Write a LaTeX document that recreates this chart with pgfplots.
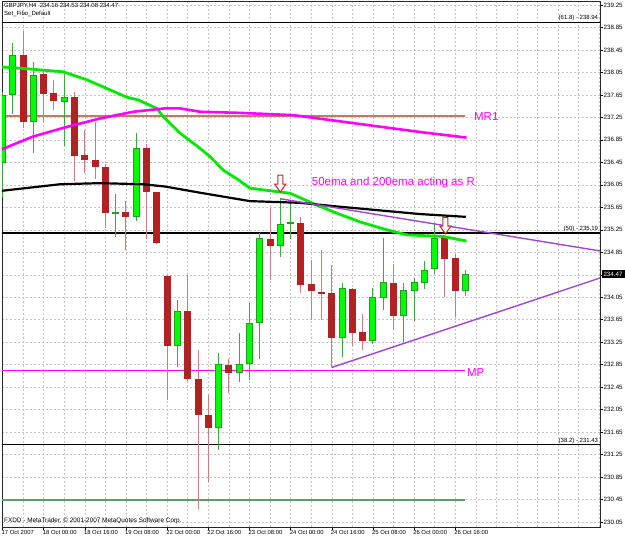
\documentclass[border=0pt]{standalone}
\usepackage{fontspec}
\setmainfont{Liberation Sans}
\usepackage{pgfplots}
\pgfplotsset{compat=1.18}
\usepackage{pgfplotstable}

\definecolor{bullfill}{RGB}{0,255,0}
\definecolor{bulledge}{RGB}{30,160,30}
\definecolor{bullwick}{RGB}{60,170,60}
\definecolor{bearfill}{RGB}{178,34,34}
\definecolor{bearwick}{RGB}{205,125,125}
\definecolor{emagreen}{RGB}{0,232,0}
\definecolor{mag}{RGB}{255,0,255}
\definecolor{mrone}{RGB}{190,125,95}
\definecolor{trend}{RGB}{160,70,210}
\definecolor{supgreen}{RGB}{90,160,110}
\definecolor{gridc}{RGB}{205,192,198}
\definecolor{arrowred}{RGB}{190,40,40}

\pgfplotstableread{
x o h l c
0 236.44 237.70 235.84 237.65
1 237.65 238.57 237.31 238.36
3 237.17 238.23 236.62 238.00
6 237.53 238.03 236.74 237.61
11 235.53 235.89 235.13 235.56
13 235.47 236.98 235.41 236.70
17 233.19 234.00 232.80 233.80
21 231.73 233.05 231.34 232.86
23 232.70 233.41 232.54 232.86
24 232.86 233.94 232.58 233.60
25 233.60 235.19 232.95 235.10
27 234.97 235.81 234.76 235.35
28 235.37 235.75 235.09 235.39
33 233.33 234.30 232.98 234.21
36 233.28 234.21 233.22 234.05
37 234.04 235.10 233.82 234.32
39 233.72 234.30 233.25 234.18
40 234.17 234.40 233.63 234.32
41 234.31 234.70 234.20 234.53
42 234.55 235.37 234.46 235.10
45 234.16 234.53 234.08 234.47
}\bulltab

\pgfplotstableread{
x o h l c
2 238.36 238.79 237.07 237.16
4 238.02 238.09 237.17 237.67
5 237.68 237.92 237.38 237.54
7 237.62 237.71 236.12 236.56
8 236.58 237.03 236.27 236.50
9 236.49 237.17 236.15 236.37
10 236.36 236.42 235.28 235.55
12 235.56 235.76 234.90 235.47
14 236.71 236.78 235.08 235.92
15 235.92 235.93 235.00 235.02
16 234.42 234.45 232.22 233.19
18 233.80 234.45 232.56 232.60
19 232.60 233.12 230.28 231.95
20 231.95 232.31 230.77 231.73
22 232.84 232.96 232.34 232.70
26 235.09 235.63 234.36 234.96
29 235.38 235.48 234.12 234.27
30 234.28 234.72 233.65 234.16
31 234.15 234.89 233.65 234.12
32 234.12 234.62 232.81 233.32
34 234.20 234.22 233.18 233.41
35 233.44 233.76 233.11 233.28
38 234.30 234.64 233.48 233.72
43 235.10 235.12 234.06 234.73
44 234.74 234.82 233.70 234.16
}\beartab

\begin{document}
\begin{tikzpicture}
\useasboundingbox (0,0) rectangle (625pt,537pt);
\begin{axis}[
  at={(2pt,10pt)}, anchor=south west, scale only axis,
  width=598pt, height=526pt,
  xmin=-0.05, xmax=58.07, ymin=229.962, ymax=239.321,
  axis line style={draw=black!85, line width=0.8pt},
  tick align=outside, major tick length=3pt, minor tick length=0pt,
  tick style={black, line width=0.5pt},
  xtick pos=bottom, ytick pos=right,
  xtick={0,4,...,44},
  xticklabels={17 Oct 2007,18 Oct 00:00,18 Oct 16:00,19 Oct 08:00,22 Oct 00:00,22 Oct 16:00,23 Oct 08:00,24 Oct 00:00,24 Oct 16:00,25 Oct 08:00,26 Oct 00:00,26 Oct 16:00},
  minor xtick={2,6,10,14,18,22,26,30,34,38,42,46,48,50,52,54,56,58},
  ytick={230.05,230.45,230.85,231.25,231.65,232.05,232.45,232.85,233.25,233.65,234.05,234.45,234.85,235.25,235.65,236.05,236.45,236.85,237.25,237.65,238.05,238.45,238.85,239.25},
  yticklabels={230.05,230.45,230.85,231.25,231.65,232.05,232.45,232.85,233.25,233.65,234.05,{},234.85,235.25,235.65,236.05,236.45,236.85,237.25,237.65,238.05,238.45,238.85,239.25},
  xmajorgrids, xminorgrids, ymajorgrids,
  major grid style={gridc, dash pattern=on 2pt off 2pt, line width=0.5pt},
  minor grid style={gridc, dash pattern=on 2pt off 2pt, line width=0.5pt},
  xticklabel style={font=\fontsize{5.9}{6}\selectfont, anchor=north west, inner sep=0pt, xshift=-1pt, yshift=-0.5pt},
  yticklabel style={font=\fontsize{6.2}{7}\selectfont, anchor=west, inner sep=0pt, xshift=0.5pt},
  candle/.style={draw=none, mark=none, error bars/.cd, y dir=both, y explicit, error mark=none},
]
% Fibonacci levels
\addplot[black, line width=1.4pt] coordinates {(-1,238.94) (60,238.94)};
\addplot[black, line width=1.4pt] coordinates {(-1,235.19) (60,235.19)};
\addplot[black, line width=1.4pt] coordinates {(-1,231.43) (60,231.43)};
% pivot levels
\addplot[mrone, line width=2pt] coordinates {(-1,237.27) (44.95,237.27)};
\addplot[mag, line width=1.1pt] coordinates {(-1,232.74) (44.95,232.74)};
\addplot[supgreen, line width=2pt] coordinates {(-1,230.44) (44.95,230.44)};

% wicks
\addplot[candle, error bar style={draw=bullwick, line width=1pt}]
  table[x=x, y expr={(\thisrow{h}+\thisrow{l})/2}, y error expr={(\thisrow{h}-\thisrow{l})/2}] {\bulltab};
\addplot[candle, error bar style={draw=bearwick, line width=1pt}]
  table[x=x, y expr={(\thisrow{h}+\thisrow{l})/2}, y error expr={(\thisrow{h}-\thisrow{l})/2}] {\beartab};
% bodies
\addplot[candle, error bar style={draw=bulledge, line width=7pt}]
  table[x=x, y expr={(\thisrow{o}+\thisrow{c})/2}, y error expr={max(abs(\thisrow{c}-\thisrow{o})/2,0.009)}] {\bulltab};
\addplot[candle, error bar style={draw=bullfill, line width=5pt}]
  table[x=x, y expr={(\thisrow{o}+\thisrow{c})/2}, y error expr={max(abs(\thisrow{c}-\thisrow{o})/2-0.0178,0)}] {\bulltab};
\addplot[candle, error bar style={draw=bearfill, line width=7pt}]
  table[x=x, y expr={(\thisrow{o}+\thisrow{c})/2}, y error expr={max(abs(\thisrow{c}-\thisrow{o})/2,0.009)}] {\beartab};

% moving averages
\addplot[emagreen, line width=2.8pt, line join=round] coordinates {
(-0.24,238.15) (2.02,238.12) (5.91,238.06) (8.18,237.92) (12.07,237.61) (13.2,237.56)
(14.99,237.41) (15.63,237.26) (17.25,236.97) (19.19,236.70) (20.17,236.55) (21.46,236.31)
(22.92,236.14) (24.05,235.99) (26.65,235.93) (27.94,235.90) (30.53,235.69) (32.15,235.57)
(34.74,235.39) (37.34,235.25) (39.28,235.16) (42.84,235.13) (45.1,235.05)};
\addplot[mag, line width=2.6pt, line join=round] coordinates {
(-0.24,236.67) (2.99,236.91) (6.24,237.08) (9.48,237.23) (12.71,237.35) (15.79,237.41)
(17.25,237.41) (19.19,237.35) (23.1,237.33) (28.26,237.29) (34,237.15) (40.57,236.99) (45.1,236.89)};
\addplot[black, line width=2.2pt, line join=round] coordinates {
(-0.24,235.94) (5.59,236.06) (9.48,236.08) (13.65,236.06) (15.79,236.02) (19.19,235.91)
(24.05,235.76) (28.91,235.73) (32.8,235.66) (40.57,235.53) (45.04,235.48)};

% trend lines
\addplot[trend, line width=1.4pt] coordinates {(27.07,235.80) (58.2,234.87)};
\addplot[trend, line width=1.4pt] coordinates {(31.99,232.80) (58.2,234.40)};

% labels
\node[anchor=west, inner sep=0pt, text=mag, font=\fontsize{11.5}{12}\selectfont] at (axis cs:30.05,236.09) {50ema and 200ema acting as R};
\node[anchor=west, inner sep=0pt, text=mag, font=\fontsize{11.5}{12}\selectfont] at (axis cs:45.82,237.26) {MR1};
\node[anchor=west, inner sep=0pt, text=mag, font=\fontsize{11.5}{12}\selectfont] at (axis cs:45.14,232.71) {MP};
\node[anchor=south east, inner sep=0pt, yshift=1pt, font=\fontsize{6}{7}\selectfont] at (axis cs:57.9,238.94) {(61.8) - 238.94};
\node[anchor=south east, inner sep=0pt, yshift=1pt, font=\fontsize{6}{7}\selectfont] at (axis cs:57.9,235.19) {(50) - 235.19};
\node[anchor=south east, inner sep=0pt, yshift=1pt, font=\fontsize{6}{7}\selectfont] at (axis cs:57.9,231.43) {(38.2) - 231.43};

% arrows
\draw[arrowred, fill=white, line width=1pt, shift={(axis cs:27.0,235.92)}] (0pt,0pt) -- (-5.5pt,8pt) -- (-2.5pt,8pt) -- (-2.5pt,17pt) -- (2.5pt,17pt) -- (2.5pt,8pt) -- (5.5pt,8pt) -- cycle;
\draw[arrowred, fill=white, line width=1pt, shift={(axis cs:43.05,235.18)}] (0pt,0pt) -- (-5.5pt,7.5pt) -- (-2.5pt,7.5pt) -- (-2.5pt,16pt) -- (2.5pt,16pt) -- (2.5pt,7.5pt) -- (5.5pt,7.5pt) -- cycle;
\end{axis}

\node[anchor=west, inner sep=0pt, font=\fontsize{6}{7}\selectfont] at (4pt,531pt) {GBPJPY,H4\ \ 234.16 234.53 234.08 234.47};
\node[anchor=west, inner sep=0pt, font=\fontsize{6}{7}\selectfont] at (4pt,523pt) {Set\_Fibo\_Default};
\node[anchor=west, inner sep=0pt, font=\fontsize{6.4}{7}\selectfont] at (4pt,16pt) {FXDD - MetaTrader, © 2001-2007 MetaQuotes Software Corp.};
\node[fill=black, text=white, inner sep=1pt, minimum width=23pt, minimum height=8.5pt, font=\fontsize{6.2}{7}\selectfont] at (613pt,263pt) {234.47};
\end{tikzpicture}
\end{document}
